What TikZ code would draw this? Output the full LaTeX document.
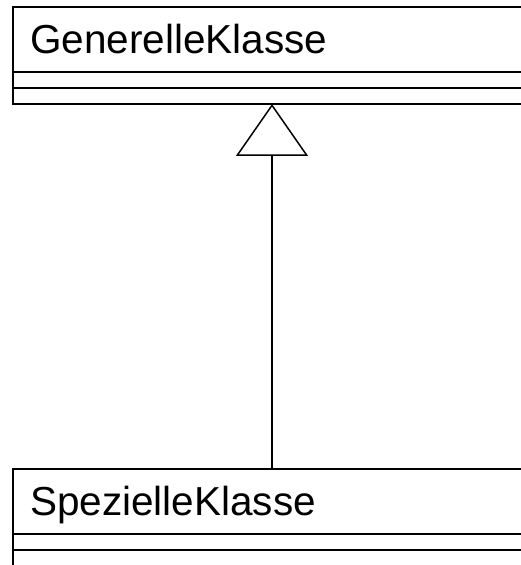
\documentclass[tikz,border=0pt]{standalone}
\usepackage{fontspec}
\setmainfont{Liberation Sans}
\usepackage{tikz}
\usetikzlibrary{arrows.meta, positioning}

\begin{document}
\begin{tikzpicture}[x=1pt, y=1pt, line width=1.5pt,
  classname/.style={draw, rectangle, anchor=north west, text width=553pt,
    inner xsep=17pt, inner ysep=0pt, outer sep=0pt, minimum height=65pt,
    text height=29pt, text depth=0pt, font=\fontsize{40.5}{40.5}\selectfont},
  compartment/.style={draw, rectangle, minimum width=587pt,
    minimum height=16pt, inner sep=0pt, outer sep=0pt},
  inherits/.style={-{Triangle[open, length=52pt, width=72pt]}}]
\def\tipx{259}
% page size, boxes run off the right and bottom edge
\useasboundingbox (0,0) rectangle (520,565);
% general class
\node[classname] (gen) at (13,558) {GenerelleKlasse};
\node[compartment, below=0pt of gen] (gen-attr) {};
\node[compartment, below=0pt of gen-attr] (gen-ops) {};
% special class
\node[classname] (spez) at (13,96) {SpezielleKlasse};
\node[compartment, below=0pt of spez] (spez-attr) {};
\node[compartment, below=0pt of spez-attr] (spez-ops) {};
% generalisation
\path (gen-ops.south west) ++(\tipx,0) coordinate (tip);
\draw[inherits] (spez.north -| tip) -- (tip);
\end{tikzpicture}
\end{document}
